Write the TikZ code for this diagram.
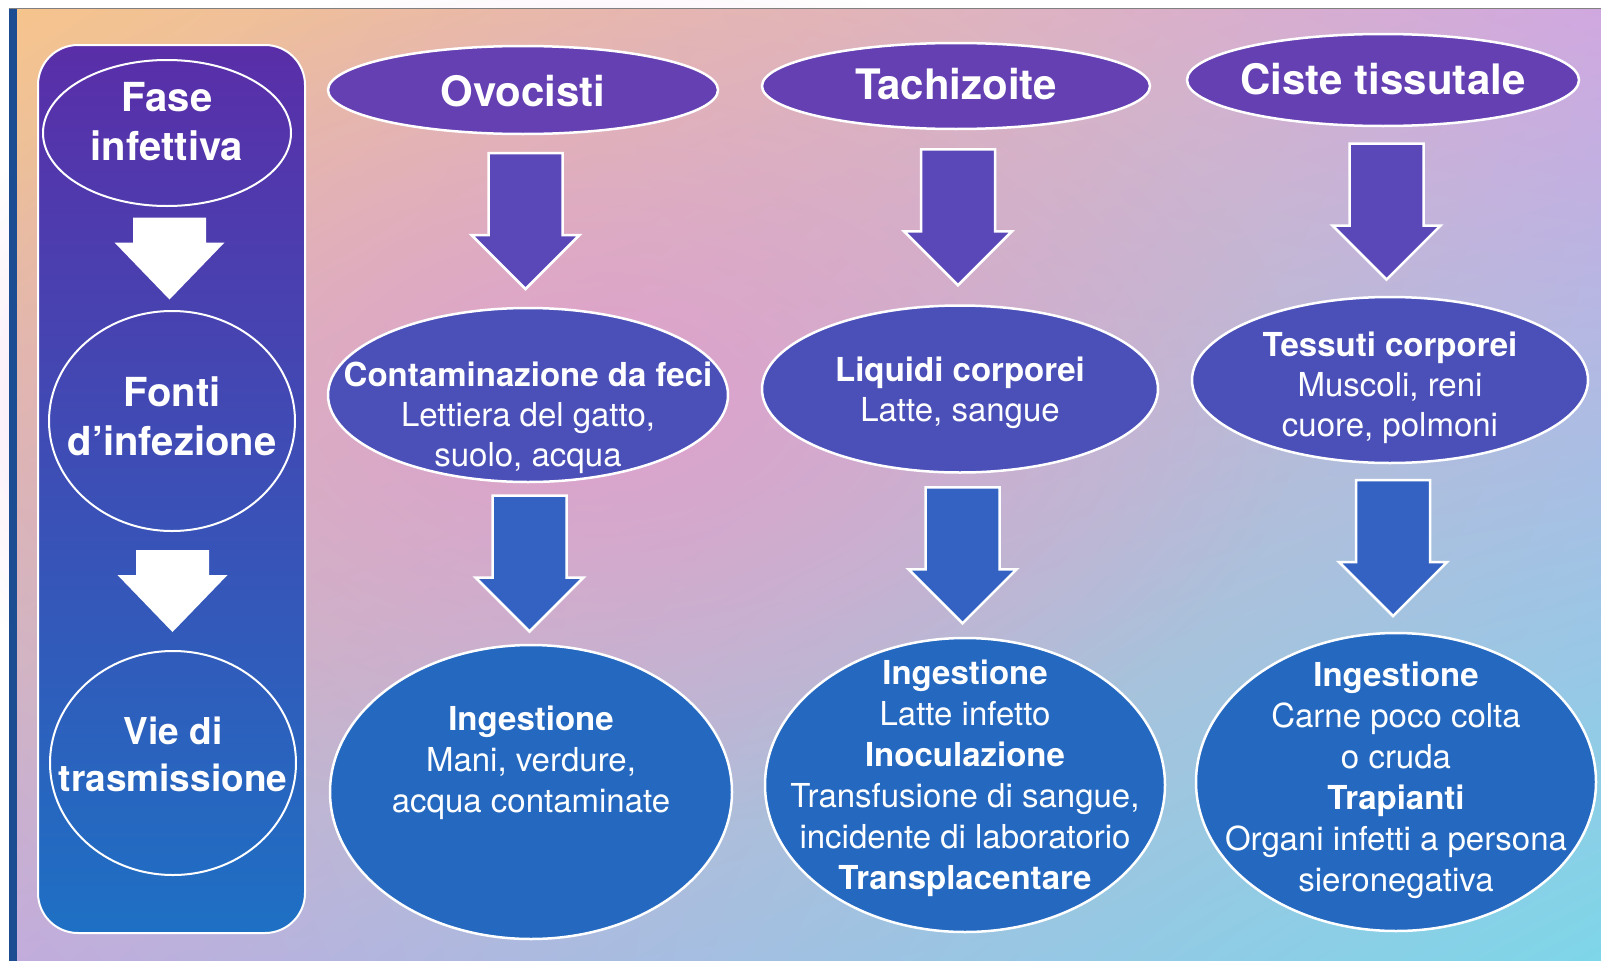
\documentclass[tikz,border=0pt]{standalone}
\usepackage{fontspec}
\setmainfont{TeX Gyre Heros}
\usepackage{xcolor}
\usetikzlibrary{shapes.geometric, calc, shadings, fadings}

\definecolor{bgTL}{HTML}{F6C48C}
\definecolor{bgTR}{HTML}{D0A8E0}
\definecolor{bgBL}{HTML}{C2ACDC}
\definecolor{bgBR}{HTML}{7ED6E8}
\definecolor{bgpink}{HTML}{E29AD0}
\definecolor{framedark}{HTML}{1C4C92}
\definecolor{paneltop}{HTML}{5A2EA8}
\definecolor{panelbottom}{HTML}{1E70C4}
\definecolor{titlefill}{HTML}{6440B2}
\definecolor{midfill}{HTML}{4B50B8}
\definecolor{lowfill}{HTML}{2468C0}
\definecolor{arrowone}{HTML}{5A48B8}
\definecolor{arrowtwo}{HTML}{3362C2}

\tikzfading[name=pinkglow, inner color=transparent!20, outer color=transparent!100]

% text of an oval, kept out of the oval's size
\newcommand{\ovaltext}[2][0pt]{\makebox[0pt]{\smash{\raisebox{#1}{\begin{tabular}{@{}c@{}}#2\end{tabular}}}}}

\tikzset{
	bigarrow/.style={to path={($(\tikztostart)!0.5!(\tikztotarget)$) ++(-37, -68) -- ++(74, 0) -- ++(0, 82) -- ++(17, 0) -- ++(-54, 54) -- ++(-54, -54) -- ++(17, 0) -- cycle}},
	smallarrow/.style={to path={($(\tikztostart)!0.5!(\tikztotarget)$) ++(-36.5, -41) -- ++(73, 0) -- ++(0, 25) -- ++(18.5, 0) -- ++(-55, 57) -- ++(-55, -57) -- ++(18.5, 0) -- cycle}}
}

\begin{document}
\begin{tikzpicture}[x=1pt, y=-1pt]
			\tikzstyle{phase} = [ellipse, draw=white, line width=2pt, text=white, inner sep=0pt, font=\fontsize{40}{49}\selectfont\bfseries]
			\tikzstyle{stage} = [ellipse, draw=white, line width=2.5pt, fill=titlefill, text=white, inner sep=0pt, font=\fontsize{42}{48}\selectfont\bfseries]
			\tikzstyle{source} = [ellipse, draw=white, line width=2.5pt, fill=midfill, text=white, inner sep=0pt, font=\fontsize{33}{40}\selectfont]
			\tikzstyle{route} = [ellipse, draw=white, line width=2.5pt, fill=lowfill, text=white, inner sep=0pt, font=\fontsize{33}{41}\selectfont]

			% background and frame
			\path[fill=white] (0, 0) rectangle (1601, 961);
			\useasboundingbox (0, 0) rectangle (1601, 961);
			\shade[upper left=bgTL, upper right=bgTR, lower left=bgBL, lower right=bgBR] (9, 8) rectangle (1601, 961);
			\fill[bgpink, path fading=pinkglow] (600, 400) ellipse (700 and 430);
			\fill[framedark] (9, 8) rectangle (17, 961);
			\draw[gray, line width=1pt] (9, 8) -- (1601, 8);
			\path[draw=white, line width=2pt, rounded corners=40pt, top color=paneltop, bottom color=panelbottom] (38, 45) rectangle (305, 933);

			\path (167, 133) node[phase, minimum width=248pt, minimum height=146pt] (fase) {\ovaltext[1pt]{Fase\\infettiva}};
			\path (172, 421) node[phase, minimum width=246pt, minimum height=220pt] (fonti) {\ovaltext[-6pt]{Fonti\\d'infezione}};
			\path (173, 763) node[phase, minimum width=246pt, minimum height=224pt, font=\fontsize{37}{47}\selectfont\bfseries] (vie) {\ovaltext[-2pt]{Vie di\\trasmissione}};

			\path (523, 90) node[stage, minimum width=390pt, minimum height=88pt] (ovo) {\ovaltext[-13pt]{Ovocisti}};
			\path (956, 86) node[stage, minimum width=388pt, minimum height=86pt] (tachi) {\ovaltext[-10pt]{Tachizoite}};
			\path (1383, 80) node[stage, minimum width=392pt, minimum height=92pt] (ciste) {\ovaltext[-11pt]{Ciste tissutale}};

			\path (528, 395) node[source, minimum width=400pt, minimum height=174pt] (feci) {\ovaltext[-30pt]{\textbf{Contaminazione da feci}\\Lettiera del gatto,\\suolo, acqua}};
			\path (960, 389) node[source, minimum width=396pt, minimum height=167pt] (liquidi) {\ovaltext[-11pt]{\textbf{Liquidi corporei}\\Latte, sangue}};
			\path (1390, 380) node[source, minimum width=396pt, minimum height=166pt] (tessuti) {\ovaltext[-15pt]{\textbf{Tessuti corporei}\\Muscoli, reni\\cuore, polmoni}};

			\path (531, 792) node[route, minimum width=402pt, minimum height=294pt] (ingovo) {\ovaltext[22pt]{\textbf{Ingestione}\\Mani, verdure,\\acqua contaminate}};
			\path (965, 785) node[route, minimum width=400pt, minimum height=294pt] (ingtachi) {\ovaltext{\textbf{Ingestione}\\Latte infetto\\\textbf{Inoculazione}\\Transfusione di sangue,\\incidente di laboratorio\\\textbf{Transplacentare}}};
			\path (1396, 782) node[route, minimum width=400pt, minimum height=298pt] (ingciste) {\ovaltext[-5pt]{\textbf{Ingestione}\\Carne poco colta\\o cruda\\\textbf{Trapianti}\\Organi infetti a persona\\sieronegativa}};

			\path[fill=white] (fase.south) to[smallarrow] (fonti.north);
			\path[fill=white] (fonti.south) to[smallarrow] (vie.north);

			\path[draw=white, line width=2.5pt, fill=arrowone] (ovo.south) to[bigarrow] (feci.north);
			\path[draw=white, line width=2.5pt, fill=arrowone] (tachi.south) to[bigarrow] (liquidi.north);
			\path[draw=white, line width=2.5pt, fill=arrowone] (ciste.south) to[bigarrow] (tessuti.north);

			\path[draw=white, line width=2.5pt, fill=arrowtwo] (feci.south) to[bigarrow] (ingovo.north);
			\path[draw=white, line width=2.5pt, fill=arrowtwo] (liquidi.south) to[bigarrow] (ingtachi.north);
			\path[draw=white, line width=2.5pt, fill=arrowtwo] (tessuti.south) to[bigarrow] (ingciste.north);
		\end{tikzpicture}
\end{document}
